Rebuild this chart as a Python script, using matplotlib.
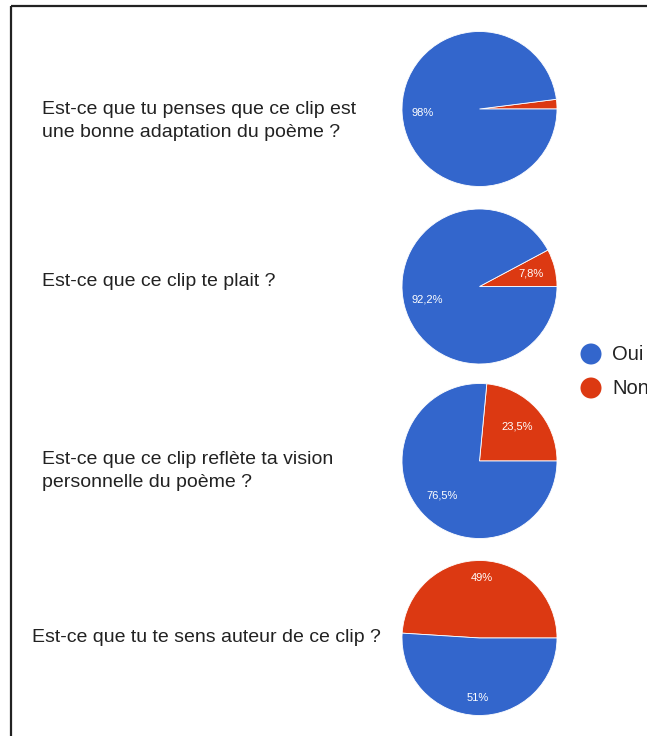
import matplotlib
matplotlib.use("Agg")
import matplotlib.pyplot as plt
from matplotlib.patches import Rectangle, Circle

plt.rcParams['font.family'] = ['Liberation Sans', 'DejaVu Sans']

# Survey answers (percent of respondents)
questions = [
    "Est-ce que tu penses que ce clip est\nune bonne adaptation du poème ?",
    "Est-ce que ce clip te plait ?",
    "Est-ce que ce clip reflète ta vision\npersonnelle du poème ?",
    "Est-ce que tu te sens auteur de ce clip ?",
]
answers = ["Oui", "Non"]
oui_pct = [98, 92.2, 76.5, 51]
non_pct = [2, 7.8, 23.5, 49]

colors = {"Oui": "#3366cc", "Non": "#dc3912"}

# Layout in pixels
W, H = 647, 736
DPI = 100
pie_cx = 479.5
pie_cy = [109, 286.5, 461, 638]
pie_r = 77.5
label_dist = [0.74, 0.69, 0.66, 0.78]
text_x = [42, 42, 42, 32]
text_y = [137, 286, 487, 642]   # baseline of last line
legend_x = 591
legend_y = [354, 388]


def fmt_pct(v):
    if v < 5:
        return ""
    if float(v).is_integer():
        return f"{int(v)}%"
    return f"{v:.1f}".replace(".", ",") + "%"


fig = plt.figure(figsize=(W / DPI, H / DPI), dpi=DPI)
fig.patch.set_facecolor("white")

# overlay axes in pixel coordinates for text, legend and frame
ov = fig.add_axes([0, 0, 1, 1])
ov.set_xlim(0, W)
ov.set_ylim(H, 0)
ov.axis("off")

ov.add_patch(Rectangle((11, 6), W + 20, H + 20, fill=False,
                       edgecolor="#222222", linewidth=1.6, zorder=1))

for q, tx, ty in zip(questions, text_x, text_y):
    ov.text(tx, ty, q, fontsize=14, color="#222222", ha="left",
            va="baseline", linespacing=1.45)

for name, ly in zip(answers, legend_y):
    ov.add_patch(Circle((legend_x, ly), 10.5, facecolor=colors[name],
                        edgecolor="none"))
    ov.text(legend_x + 21, ly, name, fontsize=14.5, color="#222222",
            ha="left", va="center")

for cy, oui, non, ld in zip(pie_cy, oui_pct, non_pct, label_dist):
    ax = fig.add_axes([(pie_cx - pie_r) / W, (H - cy - pie_r) / H,
                       2 * pie_r / W, 2 * pie_r / H])
    vals = [non, oui]
    wedges, texts = ax.pie(
        vals,
        colors=[colors["Non"], colors["Oui"]],
        startangle=0,
        counterclock=True,
        radius=1,
        labels=[fmt_pct(v) for v in vals],
        labeldistance=ld,
        textprops=dict(color="white", fontsize=8, ha="center", va="center"),
        wedgeprops=dict(edgecolor="white", linewidth=0.6),
    )
    for t in texts:
        t.set_ha("center")
        t.set_va("center")
    ax.set_xlim(-1, 1)
    ax.set_ylim(-1, 1)
    ax.set_aspect("equal")
    ax.axis("off")

fig.savefig("out.png", dpi=DPI, facecolor="white")
